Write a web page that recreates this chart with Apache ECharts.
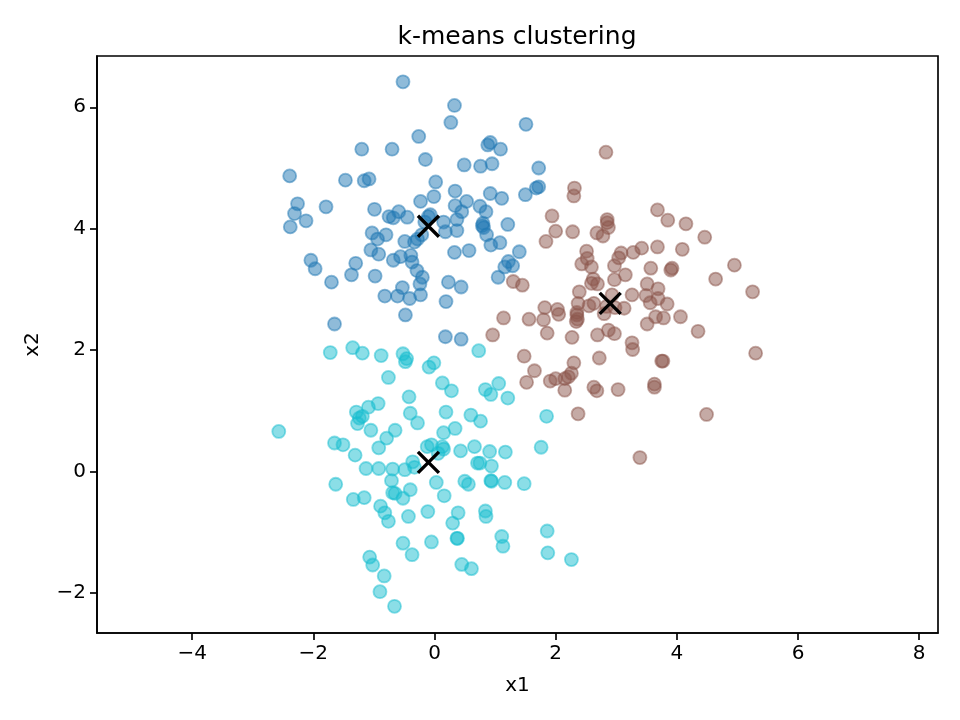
<!DOCTYPE html>
<html lang="en">
<head>
<meta charset="UTF-8">
<title>k-means clustering</title>
<script src="https://cdn.jsdelivr.net/npm/echarts@6/dist/echarts.min.js"></script>
<style>html,body{margin:0;padding:0;background:#fff}</style>
</head>
<body>
<div id="main" style="width:960px;height:720px"></div>
<script>
var xTicks = [-4, -2, 0, 2, 4, 6, 8];
var yTicks = [-2, 0, 2, 4, 6];

var blue = [
  [-0.52,6.42],[0.33,6.03],[0.27,5.75],[1.51,5.72],[-0.26,5.52],[0.92,5.42],[0.88,5.38],[1.09,5.31],[-1.20,5.31],[-0.70,5.31],
  [-0.15,5.14],[0.49,5.05],[0.76,5.03],[0.95,5.07],[1.72,5.00],[-2.39,4.87],[-1.47,4.80],[-1.16,4.79],[-1.08,4.82],[0.02,4.77],
  [0.34,4.62],[1.72,4.69],[1.68,4.67],[1.50,4.56],[0.92,4.58],[1.11,4.50],[-0.01,4.53],[-0.23,4.45],[0.53,4.45],[0.34,4.38],
  [0.45,4.28],[0.75,4.37],[0.85,4.28],[-2.26,4.41],[-2.31,4.25],[-1.79,4.36],[-2.12,4.13],[-2.38,4.03],[-0.99,4.32],[-0.75,4.20],
  [-0.68,4.18],[-0.59,4.28],[-0.45,4.19],[-0.07,4.23],[-0.10,4.20],[-0.16,4.11],[0.15,4.11],[0.37,4.15],[0.18,3.95],[0.37,3.97],
  [0.80,4.09],[0.79,4.05],[0.81,4.02],[1.21,4.07],[0.86,3.90],[0.93,3.73],[1.08,3.77],[-1.03,3.93],[-0.80,3.90],[-0.94,3.83],
  [-0.49,3.79],[-0.33,3.78],[-0.28,3.83],[-0.21,3.90],[0.33,3.61],[0.57,3.64],[1.40,3.62],[-1.05,3.65],[-0.92,3.58],[1.22,3.46],
  [-2.04,3.48],[-1.30,3.43],[-0.68,3.48],[-0.56,3.54],[-0.39,3.56],[-0.37,3.45],[-0.29,3.31],[-0.20,3.20],[-0.24,3.09],[-0.53,3.03],
  [-0.82,2.89],[-0.61,2.89],[-0.41,2.85],[-0.23,2.91],[0.23,3.12],[0.44,3.04],[0.19,2.80],[-0.48,2.58],[-0.98,3.22],[-1.37,3.24],
  [-1.70,3.12],[-1.97,3.34],[-1.65,2.43],[0.18,2.22],[0.44,2.18],[1.05,3.20],[1.16,3.37],[1.29,3.39]
];

var brown = [
  [2.83,5.26],[2.31,4.67],[2.30,4.54],[3.68,4.31],[3.85,4.14],[4.15,4.08],[1.94,4.21],[2.85,4.15],[2.85,4.10],[2.87,4.02],
  [2.68,3.93],[2.78,3.88],[2.00,3.96],[2.28,3.95],[1.84,3.79],[4.46,3.86],[3.68,3.70],[4.09,3.66],[3.42,3.68],[3.28,3.61],
  [3.08,3.60],[3.04,3.52],[2.97,3.39],[2.51,3.63],[2.52,3.51],[2.43,3.42],[2.59,3.37],[3.57,3.35],[3.92,3.35],[3.90,3.32],
  [4.95,3.40],[4.64,3.17],[3.15,3.24],[2.97,3.16],[2.62,3.17],[2.59,3.10],[2.69,3.09],[1.30,3.13],[1.45,3.07],[5.25,2.96],
  [3.51,3.09],[3.69,3.01],[3.26,2.91],[3.49,2.90],[3.69,2.85],[3.56,2.78],[3.84,2.76],[2.39,2.96],[2.93,2.91],[2.37,2.77],
  [2.63,2.77],[2.55,2.73],[1.82,2.70],[2.03,2.67],[2.05,2.59],[1.14,2.53],[1.56,2.51],[1.80,2.50],[2.35,2.62],[2.35,2.58],
  [2.36,2.51],[2.34,2.47],[2.84,2.72],[2.98,2.70],[3.13,2.69],[2.80,2.60],[3.65,2.55],[3.78,2.53],[4.06,2.55],[3.51,2.43],
  [4.35,2.31],[1.86,2.28],[2.27,2.21],[2.69,2.25],[2.87,2.33],[2.97,2.27],[0.96,2.25],[3.26,2.12],[3.27,2.01],[1.48,1.90],
  [2.72,1.87],[3.75,1.82],[3.77,1.82],[5.30,1.95],[2.30,1.79],[1.65,1.66],[2.26,1.62],[2.21,1.56],[2.00,1.53],[2.15,1.53],
  [1.91,1.49],[1.52,1.47],[2.15,1.34],[2.63,1.39],[2.68,1.33],[3.03,1.35],[3.63,1.44],[3.63,1.39],[2.37,0.95],[4.49,0.94],
  [3.39,0.23]
];

var teal = [
  [-1.72,1.96],[-1.35,2.04],[-1.19,1.95],[-0.88,1.91],[-0.52,1.94],[-0.46,1.86],[-0.48,1.81],[0.73,1.99],[-0.01,1.79],[-0.09,1.72],
  [-0.76,1.55],[0.13,1.46],[0.28,1.33],[0.84,1.35],[0.93,1.27],[1.06,1.45],[1.21,1.21],[-0.42,1.23],[-0.93,1.12],[-1.09,1.06],
  [-1.29,0.98],[-1.19,0.91],[-1.24,0.88],[-1.27,0.79],[-0.40,0.96],[-0.28,0.80],[0.19,0.98],[0.60,0.93],[0.76,0.83],[1.85,0.91],
  [-2.57,0.66],[-1.05,0.68],[-0.65,0.68],[-0.79,0.55],[0.15,0.64],[0.34,0.71],[-0.92,0.39],[-1.65,0.47],[-1.51,0.44],[-1.31,0.27],
  [-0.12,0.41],[-0.05,0.44],[0.13,0.41],[0.15,0.37],[0.06,0.30],[0.43,0.34],[0.66,0.41],[0.91,0.33],[1.17,0.32],[1.76,0.40],
  [0.71,0.14],[0.75,0.14],[0.94,0.09],[-0.36,0.16],[-0.33,0.07],[-0.49,0.03],[-0.69,0.04],[-0.92,0.05],[-1.13,0.05],[-1.63,-0.21],
  [-1.34,-0.46],[-1.16,-0.43],[-0.71,-0.15],[-0.40,-0.30],[0.03,-0.18],[0.16,-0.40],[-0.69,-0.35],[-0.65,-0.36],[-0.52,-0.44],[0.50,-0.16],
  [0.56,-0.21],[0.93,-0.15],[0.94,-0.16],[1.16,-0.18],[1.48,-0.20],[-0.89,-0.57],[-0.82,-0.68],[-0.76,-0.82],[-0.43,-0.74],[-0.11,-0.66],
  [0.39,-0.68],[0.30,-0.85],[0.84,-0.65],[0.85,-0.74],[0.37,-1.10],[0.38,-1.10],[-0.05,-1.16],[-0.52,-1.18],[-0.37,-1.37],[1.11,-1.07],
  [1.13,-1.23],[1.86,-0.98],[1.87,-1.34],[2.26,-1.45],[-1.07,-1.41],[-1.02,-1.54],[0.45,-1.53],[0.61,-1.60],[-0.83,-1.72],[-0.90,-1.98],
  [-0.66,-2.22]
];

var centers = [[-0.10,4.04],[2.90,2.77],[-0.10,0.15]];

var fontName = '"DejaVu Sans"';

function tickText(v){
  return String(v).replace('-', '\u2212');
}

function cluster(points, rgb){
  return {
    type: 'scatter',
    data: points,
    symbol: 'circle',
    symbolSize: 13,
    silent: true,
    itemStyle: {
      color: 'rgba(' + rgb + ',0.5)',
      borderColor: 'rgba(' + rgb + ',0.5)',
      borderWidth: 1.8,
      opacity: 1
    }
  };
}

function axis(name, lo, hi, ticks, gap){
  return {
    type: 'value',
    name: name,
    nameLocation: 'middle',
    nameGap: gap,
    nameTextStyle: {color: '#000', fontFamily: fontName, fontSize: 20},
    min: lo,
    max: hi,
    splitLine: {show: false},
    axisLine: {show: true, onZero: false, lineStyle: {color: '#000', width: 1.67}},
    axisTick: {show: true, length: 7, customValues: ticks, lineStyle: {color: '#000', width: 1.67}},
    axisLabel: {
      color: '#000', fontFamily: fontName, fontSize: 20, margin: 11,
      customValues: ticks, formatter: tickText
    }
  };
}

var chart = echarts.init(document.getElementById('main'), null, {renderer: 'canvas'});
chart.setOption({
  animation: false,
  backgroundColor: '#fff',
  title: {
    text: 'k-means clustering',
    left: 512, top: 20, textAlign: 'center',
    textStyle: {color: '#000', fontFamily: fontName, fontSize: 25, fontWeight: 'normal'}
  },
  grid: {
    left: 97, right: 22, top: 56, bottom: 87,
    show: true, borderColor: '#000', borderWidth: 1.67, backgroundColor: 'transparent'
  },
  xAxis: axis('x1', -5.57, 8.31, xTicks, 43),
  yAxis: axis('x2', -2.66, 6.845, yTicks, 54),
  series: [
    cluster(blue, '31,119,180'),
    cluster(brown, '140,86,75'),
    cluster(teal, '23,190,207'),
    {
      type: 'scatter',
      data: centers,
      silent: true,
      z: 5,
      symbol: 'path://M0 0L100 100M100 0L0 100',
      symbolSize: 21,
      itemStyle: {color: 'transparent', borderColor: '#000', borderWidth: 3.4, opacity: 1}
    }
  ]
});
</script>
</body>
</html>
